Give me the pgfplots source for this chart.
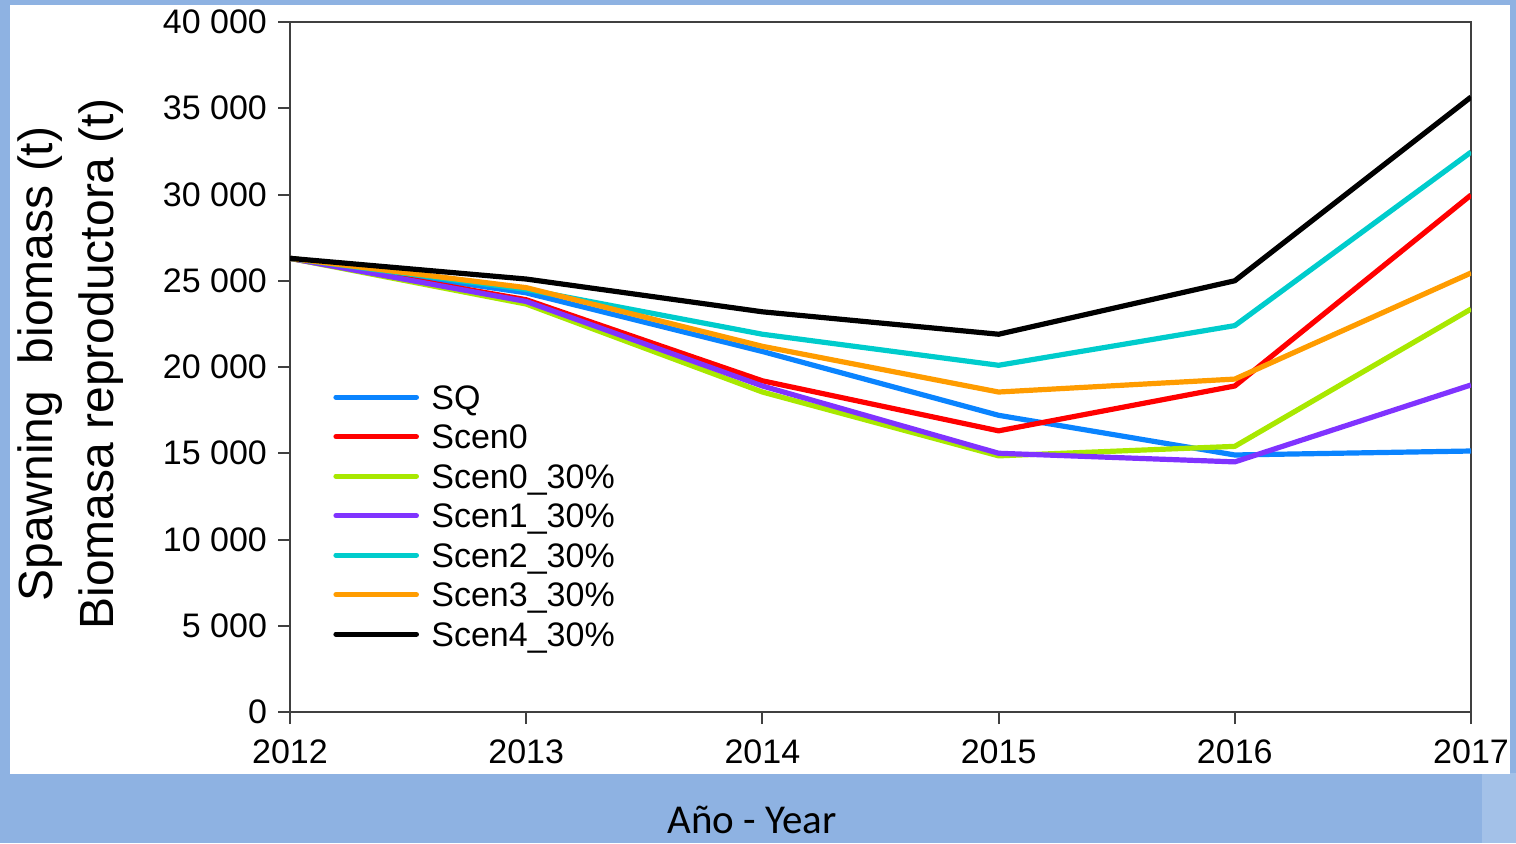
\documentclass[border=0pt]{standalone}
\usepackage{pgfplots}
\pgfplotsset{compat=1.18}
\usepackage{fontspec}
\setmainfont{Liberation Sans}
\newfontfamily\carlito{Carlito}
\definecolor{bgblue}{HTML}{8EB2E2}
\definecolor{bglight}{HTML}{A3C1E8}
\definecolor{axisgray}{HTML}{404040}
\definecolor{cSQ}{HTML}{0A84FF}
\definecolor{cS0}{HTML}{FF0000}
\definecolor{cS0t}{HTML}{A8E800}
\definecolor{cS1}{HTML}{8033FF}
\definecolor{cS2}{HTML}{00CCCC}
\definecolor{cS3}{HTML}{FF9C00}
\definecolor{cS4}{HTML}{000000}
\begin{document}
\begin{tikzpicture}
\useasboundingbox (0,0) rectangle (758pt,421.5pt);
\fill[bgblue] (0,0) rectangle (758pt,421.5pt);
\fill[bglight] (741pt,0) rectangle (758pt,35pt);
\fill[white] (5pt,34.5pt) rectangle (755pt,419pt);
\begin{axis}[
  at={(145pt,65.5pt)}, anchor=south west,
  scale only axis, width=590.5pt, height=345pt,
  xmin=2012, xmax=2017, ymin=0, ymax=40000,
  xtick={2012,2013,2014,2015,2016,2017},
  ytick={0,5000,10000,15000,20000,25000,30000,35000,40000},
  scaled y ticks=false,
  tick align=outside, tick pos=left,
  major tick length=6pt,
  axis line style={draw=axisgray, line width=1pt},
  every tick/.style={axisgray, line width=1pt},
  /pgf/number format/assume math mode=true,
  xticklabel style={font=\fontsize{17}{20}\selectfont, /pgf/number format/1000 sep={}, yshift=-4.5pt},
  yticklabel style={font=\fontsize{17}{20}\selectfont, /pgf/number format/1000 sep={\ }, xshift=-2pt},
  legend cell align=left,
  legend style={at={(axis description cs:0.0364,0.4768)}, anchor=north west,
    draw=none, fill=none, inner sep=0pt, row sep=0pt, column sep=6.2pt,
    font=\fontsize{17}{20}\selectfont,
    nodes={inner sep=0pt, text height=13pt, text depth=6.75pt}},
  legend image code/.code={\draw[#1, line cap=round] (1.3pt,3pt) -- (41.5pt,3pt);},
  every axis plot/.append style={line width=2.6pt, line join=round},
]
\addplot[cSQ] coordinates {(2012,26300) (2013,24300) (2014,20900) (2015,17200) (2016,14900) (2017,15130)};
\addlegendentry{SQ}
\addplot[cS0] coordinates {(2012,26300) (2013,23900) (2014,19200) (2015,16300) (2016,18900) (2017,29970)};
\addlegendentry{Scen0}
\addplot[cS0t] coordinates {(2012,26300) (2013,23650) (2014,18550) (2015,14850) (2016,15400) (2017,23360)};
\addlegendentry{Scen0\_30\%}
\addplot[cS1] coordinates {(2012,26300) (2013,23800) (2014,18900) (2015,15000) (2016,14500) (2017,18960)};
\addlegendentry{Scen1\_30\%}
\addplot[cS2] coordinates {(2012,26300) (2013,24500) (2014,21900) (2015,20100) (2016,22400) (2017,32460)};
\addlegendentry{Scen2\_30\%}
\addplot[cS3] coordinates {(2012,26300) (2013,24600) (2014,21200) (2015,18550) (2016,19300) (2017,25450)};
\addlegendentry{Scen3\_30\%}
\addplot[cS4] coordinates {(2012,26300) (2013,25100) (2014,23200) (2015,21900) (2016,25000) (2017,35650)};
\addlegendentry{Scen4\_30\%}
\end{axis}
\node[rotate=90, anchor=base, font=\fontsize{24}{28}\selectfont] at (26pt,239.5pt) {Spawning\ \ biomass (t)};
\node[rotate=90, anchor=base, font=\fontsize{24}{28}\selectfont] at (57pt,239.5pt) {Biomasa reproductora (t)};
\node[anchor=base, inner sep=0pt, font=\carlito\fontsize{20.5}{24}\selectfont] at (376pt,5pt) {Año - Year};
\end{tikzpicture}
\end{document}
